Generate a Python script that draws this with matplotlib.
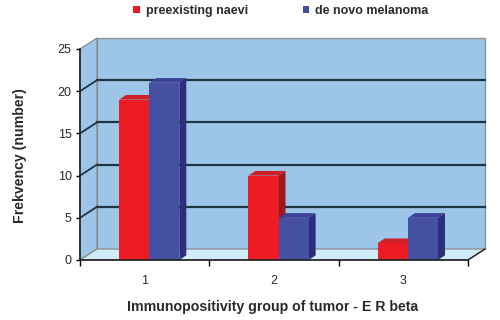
import matplotlib.pyplot as plt
from matplotlib.patches import Polygon, Patch

plt.rcParams["font.family"] = ["Liberation Sans", "DejaVu Sans"]

# Data
groups = ["1", "2", "3"]
naevi = [19, 10, 2]
melanoma = [21, 5, 5]
series_names = ["preexisting naevi", "de novo melanoma"]
y_ticks = [0, 5, 10, 15, 20, 25]

# 3D look parameters (data units)
DX, DY = 0.131, 1.3      # wall depth
BDX, BDY = 0.054, 0.55   # bar depth
BAR_W = 0.233
SHIFT = 0.035

RED = ("#ED1C24", "#CF2128", "#981A1E")      # front, top, side
BLUE = ("#4650A2", "#3D4296", "#2C2E7A")
WALL = "#9DC5E8"
FLOOR = "#CFEDF8"
GRID = "#1E3442"
EDGE = "#8C8C8C"
TXT = "#2A2A2A"

fig = plt.figure(figsize=(5, 3.2), dpi=100)
ax = fig.add_axes([0.16, 0.1875, 0.776, 0.6594])
ax.set_xlim(0, 3)
ax.set_ylim(0, 25)
ax.patch.set_visible(False)

n = len(groups)

# walls and floor
ax.add_patch(Polygon([(DX, DY), (n + DX, DY), (n + DX, 25 + DY), (DX, 25 + DY)],
                     closed=True, facecolor=WALL, edgecolor=EDGE, lw=0.9,
                     clip_on=False, zorder=0))
ax.add_patch(Polygon([(0, 0), (DX, DY), (DX, 25 + DY), (0, 25)],
                     closed=True, facecolor=WALL, edgecolor=EDGE, lw=0.9,
                     clip_on=False, zorder=0))
ax.add_patch(Polygon([(0, 0), (n, 0), (n + DX, DY), (DX, DY)],
                     closed=True, facecolor=FLOOR, edgecolor=EDGE, lw=0.9,
                     clip_on=False, zorder=0))
ax.plot([n, n + DX], [0, DY], color="#222222", lw=1.0, clip_on=False, zorder=1)

# gridlines on back and left walls
for v in y_ticks[1:-1]:
    ax.plot([DX, n + DX], [v + DY, v + DY], color=GRID, lw=1.6, clip_on=False, zorder=1)
    ax.plot([0, DX], [v, v + DY], color=GRID, lw=1.3, clip_on=False, zorder=1)


def draw_bars(lefts, values, cols, z):
    ax.bar(lefts, values, width=BAR_W, align="edge", color=cols[0],
           lw=0, zorder=z + 1)
    for x, h in zip(lefts, values):
        side = [(x + BAR_W, 0), (x + BAR_W + BDX, BDY),
                (x + BAR_W + BDX, h + BDY), (x + BAR_W, h)]
        top = [(x, h), (x + BAR_W, h), (x + BAR_W + BDX, h + BDY), (x + BDX, h + BDY)]
        ax.add_patch(Polygon(side, closed=True, facecolor=cols[2], lw=0,
                             clip_on=False, zorder=z))
        ax.add_patch(Polygon(top, closed=True, facecolor=cols[1], lw=0,
                             clip_on=False, zorder=z))


red_lefts = [i + 0.5 - BAR_W + SHIFT for i in range(n)]
blue_lefts = [i + 0.5 + SHIFT for i in range(n)]
draw_bars(red_lefts, naevi, RED, 2)
draw_bars(blue_lefts, melanoma, BLUE, 4)

# axes
for s in ["top", "right"]:
    ax.spines[s].set_visible(False)
for s in ["left", "bottom"]:
    ax.spines[s].set_color("#222222")
    ax.spines[s].set_linewidth(1.2)
    ax.spines[s].set_zorder(6)

ax.set_yticks(y_ticks)
ax.tick_params(axis="y", length=3, width=1.0, pad=3, labelsize=9, labelcolor=TXT)
ax.set_xticks(range(n + 1))
ax.set_xticklabels([])
ax.set_xticks([i + 0.5 for i in range(n)], minor=True)
ax.set_xticklabels(groups, minor=True)
ax.tick_params(axis="x", which="major", length=4, width=1.0, direction="out")
ax.tick_params(axis="x", which="minor", length=0, pad=11, labelsize=9, labelcolor=TXT)

fig.text(0.04, 0.515, "Frekvency (number)", rotation=90, ha="center", va="center",
         fontsize=10.2, fontweight="bold", color=TXT)
fig.text(0.546, 0.04, "Immunopositivity group of tumor - E R beta", ha="center",
         va="center", fontsize=10.2, fontweight="bold", color=TXT)

handles = [Patch(facecolor=RED[0]), Patch(facecolor=BLUE[0])]
fig.legend(handles, series_names, loc="center", bbox_to_anchor=(0.562, 0.966),
           ncol=2, frameon=False, prop={"size": 9, "weight": "bold"},
           handlelength=0.5, handleheight=0.5, handletextpad=0.5,
           columnspacing=4.4, labelcolor=TXT)

fig.savefig("out.png", dpi=100, facecolor="white")
